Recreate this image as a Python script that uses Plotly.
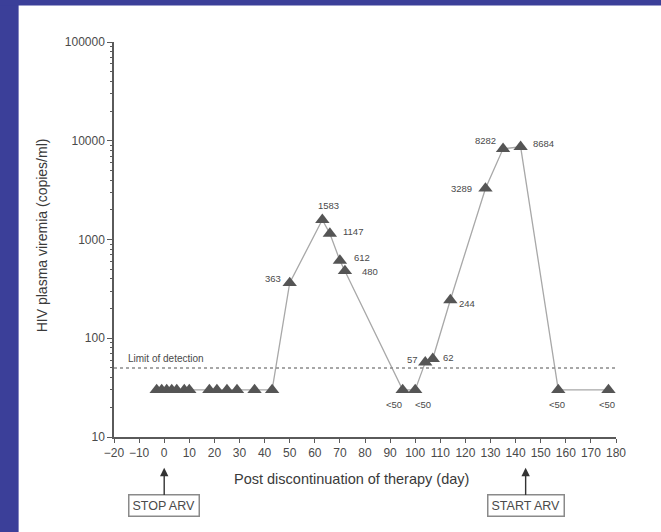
import math
import plotly.graph_objects as go

# ---- data ----
days = [-3, -1, 1, 3, 5, 8, 10, 18, 21, 25, 29, 36, 43,
        50, 63, 66, 70, 72, 95, 100, 104, 107, 114, 128, 135, 142, 157, 177]
viremia = [30, 30, 30, 30, 30, 30, 30, 30, 30, 30, 30, 30, 30,
           363, 1583, 1147, 612, 480, 30, 30, 57, 62, 244, 3289, 8282, 8684, 30, 30]
point_labels = ["", "", "", "", "", "", "", "", "", "", "", "", "",
                "363", "1583", "1147", "612", "480", "<50", "<50", "57", "62",
                "244", "3289", "8282", "8684", "<50", "<50"]
detection_limit = 50
x_ticks = list(range(-20, 181, 10))
y_ticks = [10, 100, 1000, 10000, 100000]
y_tick_text = ["10", "100", "1000", "10000", "100000"]
stop_day = 0
start_day = 144

# label offsets in pixels (style only)
label_shift = {
    13: (-17, 4), 14: (6, 14), 15: (23, 2), 16: (22, 3), 17: (25, -1),
    18: (-9, -15), 19: (8, -15), 20: (-13, 3), 21: (16, 1), 22: (17, -3),
    23: (-24, 0), 24: (-18, 8), 25: (23, 3), 26: (-1, -15), 27: (-1, -15),
}

FONT = "Liberation Sans, Arial, sans-serif"
TXT = "#4a4a4a"
AX = "#5a5a5a"

fig = go.Figure()
fig.add_trace(go.Scatter(
    x=days, y=viremia, mode="lines",
    line=dict(color="#a8a8a8", width=1.3), hoverinfo="skip", showlegend=False))
fig.add_trace(go.Scatter(
    x=days, y=viremia, mode="markers",
    marker=dict(symbol="triangle-up", size=12.5, color="#555555",
                line=dict(width=0)),
    showlegend=False))

annotations = []
for i, t in enumerate(point_labels):
    if not t:
        continue
    dx, dy = label_shift[i]
    annotations.append(dict(
        x=days[i], y=math.log10(viremia[i]), xref="x", yref="y", text=t,
        showarrow=False, xshift=dx, yshift=dy,
        font=dict(family=FONT, size=9.5, color=TXT)))

# detection limit line
fig.add_shape(type="line", xref="x", yref="y", x0=-20, x1=180,
              y0=detection_limit, y1=detection_limit,
              line=dict(color="#8a8a8a", width=1.6, dash="dot"))
annotations.append(dict(
    x=-20, y=math.log10(detection_limit), xref="x", yref="y",
    text="Limit of detection", showarrow=False, xanchor="left",
    yanchor="bottom", xshift=12, yshift=2,
    font=dict(family=FONT, size=10, color=TXT)))

# axis titles
annotations.append(dict(
    x=0.474, y=-0.106, xref="paper", yref="paper",
    text="Post discontinuation of therapy (day)", showarrow=False,
    xanchor="center", yanchor="middle",
    font=dict(family=FONT, size=14.5, color="#3a3a3a")))
annotations.append(dict(
    x=-0.144, y=0.51, xref="paper", yref="paper",
    text="HIV plasma viremia (copies/ml)", showarrow=False, textangle=-90,
    xanchor="center", yanchor="middle",
    font=dict(family=FONT, size=14, color="#3a3a3a")))

# STOP / START ARV arrows
for d, txt in [(stop_day, "STOP ARV"), (start_day, "START ARV")]:
    annotations.append(dict(
        x=d, y=-0.078, xref="x", yref="paper", text=txt, showarrow=True,
        ax=0, ay=38, arrowhead=2, arrowsize=1.2, arrowwidth=1.4,
        arrowcolor="#333333", bordercolor="#8a8a8a", borderwidth=1.5,
        borderpad=3, bgcolor="white",
        font=dict(family=FONT, size=12.5, color=TXT)))

# blue frame strips (left and top)
fig.add_shape(type="rect", xref="paper", yref="paper",
              x0=-0.24, x1=-0.190, y0=-0.26, y1=1.12,
              fillcolor="#3b3f99", line=dict(width=0))
fig.add_shape(type="rect", xref="paper", yref="paper",
              x0=-0.24, x1=1.1, y0=1.0925, y1=1.12,
              fillcolor="#3b3f99", line=dict(width=0))

fig.update_layout(
    width=661, height=532,
    margin=dict(l=114, r=45, t=42, b=95),
    paper_bgcolor="white", plot_bgcolor="white",
    annotations=annotations,
    font=dict(family=FONT, color=TXT),
)
fig.update_xaxes(
    range=[-20, 180], tickvals=x_ticks, showline=True, linecolor=AX,
    linewidth=1.5, ticks="outside", ticklen=4, tickcolor=AX, tickwidth=1,
    showgrid=False, zeroline=False,
    tickfont=dict(family=FONT, size=12, color=TXT))
minor_vals = [m * 10 ** e for e in range(1, 5) for m in range(2, 10)]
fig.update_yaxes(
    type="log", range=[1, 5], tickvals=y_ticks, ticktext=y_tick_text,
    showline=True, linecolor=AX, linewidth=1.5, ticks="outside", ticklen=5,
    tickcolor=AX, tickwidth=1, showgrid=False, zeroline=False,
    minor=dict(tickvals=minor_vals, ticks="outside", ticklen=2,
               tickcolor=AX, showgrid=False),
    tickfont=dict(family=FONT, size=12, color=TXT))

fig.write_html("out.html")
